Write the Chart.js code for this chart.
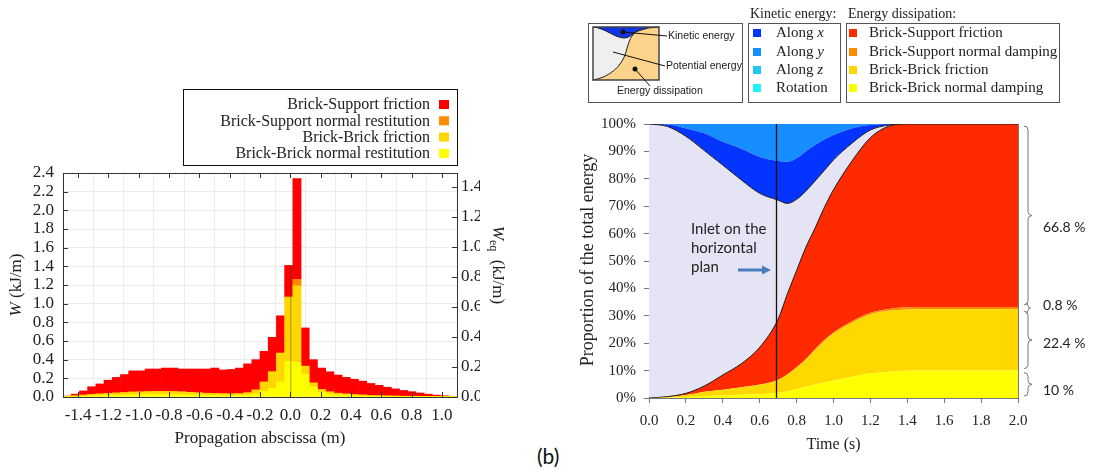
<!DOCTYPE html>
<html>
<head>
<meta charset="utf-8">
<script src="https://cdn.jsdelivr.net/npm/chart.js@4.4.0/dist/chart.umd.min.js"></script>
<style>
  html, body { margin: 0; padding: 0; background: #fff; }
  #wrap { position: relative; width: 1094px; height: 472px; overflow: hidden; }
  #left { position: absolute; left: 0; top: 0; }
  #right { position: absolute; left: 560px; top: 0; }
  #tag { position: absolute; left: 537px; top: 443px; font: 21px Lato, "Noto Sans", sans-serif; color: #111; }
</style>
</head>
<body>
<div id="wrap">
  <canvas id="left" width="520" height="472"></canvas>
  <canvas id="right" width="534" height="472"></canvas>
  <div id="tag">(b)</div>
</div>
<script>
// ---------- left panel : energy dissipated along the propagation abscissa ----------
const binStart = [-1.40,-1.35,-1.30,-1.25,-1.20,-1.15,-1.10,-1.05,-1.00,-0.95,-0.90,-0.85,
  -0.80,-0.75,-0.70,-0.65,-0.60,-0.55,-0.50,-0.45,-0.40,-0.35,-0.30,-0.25,-0.20,-0.15,-0.10,-0.05,
  0.00,0.05,0.10,0.15,0.20,0.25,0.30,0.35,0.40,0.45,0.50,0.55,0.60,0.65,0.70,0.75,0.80,0.85,0.90,0.95];

// W (kJ/m) per 5 cm bin, one array per dissipation mode (stacked bottom -> top)
const bbNormalRest = [0.002,0.005,0.008,0.012,0.015,0.018,0.02,0.022,0.025,0.026,0.027,0.028,
  0.027,0.026,0.025,0.022,0.02,0.018,0.017,0.015,0.015,0.016,0.02,0.03,0.06,0.09,0.16,0.38,
  0.37,0.24,0.11,0.05,0.03,0.02,0.015,0.012,0.01,0.008,0.007,0.006,0.005,0.004,0.003,0.002,0.002,0.001,0.001,0.0005];
const bbFriction = [0.002,0.007,0.012,0.016,0.018,0.02,0.023,0.026,0.028,0.029,0.031,0.032,
  0.033,0.032,0.03,0.028,0.025,0.022,0.021,0.02,0.018,0.02,0.025,0.045,0.10,0.18,0.31,0.69,
  0.82,0.09,0.04,0.03,0.025,0.02,0.017,0.014,0.011,0.009,0.007,0.006,0.005,0.004,0.003,0.003,0.002,0.002,0.001,0.0005];
const bsNormalRest = [0,0,0,0,0,0,0,0,0,0,0,0,0,0,0,0,0,0,0,0,0,0,0,0,0,0,0,0,
  0.07,0,0,0,0,0,0,0,0,0,0,0,0,0,0,0,0,0,0,0];
const bsFriction = [0.006,0.018,0.045,0.082,0.107,0.142,0.167,0.192,0.227,0.225,0.242,0.24,
  0.25,0.252,0.245,0.25,0.255,0.26,0.272,0.255,0.262,0.274,0.31,0.325,0.33,0.37,0.40,0.34,
  1.08,0.41,0.25,0.23,0.215,0.195,0.178,0.164,0.149,0.128,0.111,0.093,0.077,0.062,0.051,0.038,0.026,0.017,0.011,0.007];

const W_EQ_RATIO = 0.6222;   // right axis (Weq) / left axis (W)

const SERIF = '"Liberation Serif", "DejaVu Serif", serif';
const SANS = 'Lato, "Noto Sans", sans-serif';

function fmt1(v) { return Math.abs(v) < 1e-9 ? '0.0' : v.toFixed(1); }

const leftDecor = {
  id: 'leftDecor',
  afterDatasetsDraw(chart) {
    const { ctx, scales } = chart;
    // zero axis seen through the two central bars
    const x0 = scales.xt.getPixelForValue(0);
    const h = Math.min(bsFriction[27] + bbFriction[27] + bbNormalRest[27] + bsNormalRest[27],
                       bsFriction[28] + bbFriction[28] + bbNormalRest[28] + bsNormalRest[28]);
    ctx.save();
    ctx.strokeStyle = 'rgba(60,60,60,0.45)';
    ctx.lineWidth = 1;
    ctx.beginPath();
    ctx.moveTo(x0 + 0.5, scales.y.getPixelForValue(0));
    ctx.lineTo(x0 + 0.5, scales.y.getPixelForValue(h));
    ctx.stroke();
    ctx.restore();
  },
  afterDraw(chart) {
    const { ctx, chartArea: a, scales } = chart;
    ctx.save();
    ctx.strokeStyle = '#333';
    ctx.lineWidth = 1;
    ctx.strokeRect(a.left + 0.5, a.top + 0.5, a.right - a.left, a.bottom - a.top);
    // inward ticks on all sides
    ctx.beginPath();
    scales.xt.ticks.forEach(t => {
      const x = Math.round(scales.xt.getPixelForValue(t.value)) + 0.5;
      ctx.moveTo(x, a.bottom); ctx.lineTo(x, a.bottom - 5);
      ctx.moveTo(x, a.top); ctx.lineTo(x, a.top + 5);
    });
    scales.y.ticks.forEach(t => {
      const y = Math.round(scales.y.getPixelForValue(t.value)) + 0.5;
      ctx.moveTo(a.left, y); ctx.lineTo(a.left + 5, y);
    });
    scales.y2.ticks.forEach(t => {
      const y = Math.round(scales.y2.getPixelForValue(t.value)) + 0.5;
      ctx.moveTo(a.right, y); ctx.lineTo(a.right - 5, y);
    });
    ctx.stroke();

    // axis titles
    ctx.fillStyle = '#222';
    ctx.font = '17px ' + SERIF;
    ctx.textAlign = 'center';
    ctx.textBaseline = 'middle';
    ctx.fillText('Propagation abscissa (m)', (a.left + a.right) / 2, 439);

    ctx.save();
    ctx.translate(17, 285);
    ctx.rotate(-Math.PI / 2);
    ctx.textAlign = 'left';
    ctx.font = 'italic 17px ' + SERIF;
    const wW = ctx.measureText('W').width;
    ctx.font = '17px ' + SERIF;
    const rest = ' (kJ/m)';
    const total = wW + ctx.measureText(rest).width;
    ctx.font = 'italic 17px ' + SERIF;
    ctx.fillText('W', -total / 2, 0);
    ctx.font = '17px ' + SERIF;
    ctx.fillText(rest, -total / 2 + wW, 0);
    ctx.restore();

    // right axis title: W_eq (kJ/m), reading downwards
    ctx.save();
    ctx.translate(497, 265);
    ctx.rotate(Math.PI / 2);
    ctx.textAlign = 'left';
    ctx.font = 'italic 17px ' + SERIF;
    const wq = ctx.measureText('W').width;
    ctx.font = '12px ' + SERIF;
    const wsub = ctx.measureText('eq').width;
    ctx.font = '17px ' + SERIF;
    const wr = ctx.measureText('  (kJ/m)').width;
    let px = -(wq + wsub + wr) / 2;
    ctx.font = 'italic 17px ' + SERIF;
    ctx.fillText('W', px, 0); px += wq;
    ctx.font = '12px ' + SERIF;
    ctx.fillText('eq', px, 4); px += wsub;
    ctx.font = '17px ' + SERIF;
    ctx.fillText('  (kJ/m)', px, 0);
    ctx.restore();

    // legend box (top right, gnuplot style: text then swatch)
    const lx = 183, ly = 89, lw = 274, lh = 76;
    ctx.fillStyle = '#fff';
    ctx.fillRect(lx, ly, lw, lh);
    ctx.strokeStyle = '#111';
    ctx.strokeRect(lx + 0.5, ly + 0.5, lw, lh);
    ctx.font = '16px ' + SERIF;
    ctx.textAlign = 'right';
    const ds = chart.data.datasets.slice().reverse();
    ds.forEach((d, i) => {
      const y = 105 + i * 16.3;
      ctx.fillStyle = '#222';
      ctx.fillText(d.label, 430, y);
      ctx.fillStyle = d.backgroundColor;
      ctx.fillRect(439, y - 5, 10, 9);
    });
    ctx.restore();
  }
};

new Chart(document.getElementById('left'), {
  type: 'bar',
  data: {
    labels: binStart,
    datasets: [
      { label: 'Brick-Brick normal restitution', data: bbNormalRest, backgroundColor: '#ffff00' },
      { label: 'Brick-Brick friction', data: bbFriction, backgroundColor: '#ffd700' },
      { label: 'Brick-Support normal restitution', data: bsNormalRest, backgroundColor: '#ff8c00' },
      { label: 'Brick-Support friction', data: bsFriction, backgroundColor: '#ff0000' }
    ]
  },
  options: {
    responsive: false,
    devicePixelRatio: 1,
    animation: false,
    layout: { padding: { top: 173, left: 0, right: 40, bottom: 0 } },
    datasets: { bar: { barPercentage: 1, categoryPercentage: 1, borderWidth: 0 } },
    plugins: { legend: { display: false }, tooltip: { enabled: false } },
    scales: {
      x: { display: false, stacked: true, offset: true },
      xt: {
        type: 'linear', position: 'bottom', min: -1.4, max: 1.0,
        grid: { color: '#ececec', drawTicks: false },
        border: { display: false },
        ticks: { stepSize: 0.2, autoSkip: false, padding: 8, color: '#222', font: { family: SERIF, size: 17 }, callback: fmt1, maxRotation: 0 },
        afterFit: s => { s.height = 75; }
      },
      y: {
        stacked: true, min: 0, max: 2.4,
        grid: { color: '#ececec', drawTicks: false },
        border: { display: false },
        ticks: { stepSize: 0.2, autoSkip: false, padding: 9, color: '#222', font: { family: SERIF, size: 17 }, callback: fmt1 },
        afterFit: s => { s.width = 63; }
      },
      y2: {
        position: 'right', min: 0, max: 2.4 * W_EQ_RATIO,
        grid: { display: false, drawTicks: false },
        border: { display: false },
        ticks: { stepSize: 0.2, autoSkip: false, includeBounds: false, padding: 4, color: '#222', font: { family: SERIF, size: 17 }, callback: fmt1 },
        afterFit: s => { s.width = 23; }
      }
    }
  },
  plugins: [leftDecor]
});

// ---------- right panel : energy balance over time ----------
const time = [0,0.1,0.2,0.3,0.4,0.5,0.6,0.7,0.75,0.8,0.85,0.9,0.95,1.0,1.1,1.2,1.3,1.4,1.5,1.6,1.7,1.8,1.9,2.0];
// share of the total energy (%), stacked bottom -> top
const bbNormalDamp = [0,0.1,0.4,0.7,1.0,1.2,1.4,1.9,2.5,3.3,4.1,4.9,5.7,6.4,7.8,9.0,9.6,9.9,10,10,10,10,10,10];
const bbFrictionE = [0,0.2,0.7,1.6,2.0,2.7,3.4,4.7,6.0,7.7,9.9,12.6,15.1,17.1,19.7,21.5,22.2,22.4,22.4,22.4,22.4,22.4,22.4,22.4];
const bsNormalDamp = [0,0,0,0,0.05,0.05,0.1,0.1,0.15,0.2,0.25,0.3,0.35,0.4,0.5,0.6,0.7,0.8,0.8,0.8,0.8,0.8,0.8,0.8];
const bsFrictionE = [0,0.2,0.6,2.1,5.35,8.55,13.6,22.1,29.35,35.3,40.75,44.2,48.35,52.1,58.5,63.9,66.7,66.9,66.8,66.8,66.8,66.8,66.8,66.8];
const potential = [100,98.6,93.8,85.9,76.6,67.1,56.2,43.4,33,26,20.5,17.2,13.5,10.9,6.5,2.8,0.4,0,0,0,0,0,0,0];
const kinX = [0,0.7,2.9,6.3,8.5,11.4,13.3,14.3,15.2,15,14.5,13.1,11.3,9.1,5.4,1.8,0.4,0,0,0,0,0,0,0];
const kinY = [0,0.2,1.6,3.4,6.5,9,12,13.5,13.8,12.5,10,7.7,5.7,4,1.6,0.4,0,0,0,0,0,0,0,0];
const kinZ = [0,0,0,0,0,0,0,0,0,0,0,0,0,0,0,0,0,0,0,0,0,0,0,0];
const kinRot = [0,0,0,0,0,0,0,0,0,0,0,0,0,0,0,0,0,0,0,0,0,0,0,0];

const inletTime = 0.69;
const finalShares = ['66.8 %', '0.8 %', '22.4 %', '10 %'];
const braceRanges = [[33.2, 100], [32.4, 33.2], [10, 32.4], [0, 10]];
const shareLabelAt = [62.3, 33.6, 20, 2.9];

function pts(arr) { return arr.map((v, i) => ({ x: time[i], y: v })); }

function brace(ctx, x, y1, y2, w) {
  const ym = (y1 + y2) / 2;
  w = Math.min(w, (y2 - y1) / 4);
  ctx.beginPath();
  ctx.moveTo(x - w, y1);
  ctx.quadraticCurveTo(x, y1, x, y1 + w);
  ctx.lineTo(x, ym - w);
  ctx.quadraticCurveTo(x, ym, x + w, ym);
  ctx.quadraticCurveTo(x, ym, x, ym + w);
  ctx.lineTo(x, y2 - w);
  ctx.quadraticCurveTo(x, y2, x - w, y2);
  ctx.stroke();
}

function italicTail(ctx, head, tail, x, y, size) {
  ctx.font = size + 'px ' + SERIF;
  ctx.fillText(head, x, y);
  const w = ctx.measureText(head).width;
  ctx.font = 'italic ' + size + 'px ' + SERIF;
  ctx.fillText(tail, x + w, y);
}

const rightDecor = {
  id: 'rightDecor',
  afterDatasetsDraw(chart) {
    const { ctx, chartArea: a, scales } = chart;
    ctx.save();
    // inlet on the horizontal plan
    const xi = Math.round(scales.x.getPixelForValue(inletTime)) + 0.5;
    ctx.strokeStyle = '#111';
    ctx.lineWidth = 1.3;
    ctx.beginPath();
    ctx.moveTo(xi, a.top); ctx.lineTo(xi, a.bottom);
    ctx.stroke();
    ctx.fillStyle = '#222';
    ctx.font = '15px ' + SANS;
    ctx.textAlign = 'left';
    ctx.textBaseline = 'middle';
    ctx.fillText('Inlet on the', 131, 229);
    ctx.fillText('horizontal', 131, 248);
    ctx.fillText('plan', 131, 267);
    // arrow
    ctx.fillStyle = '#4a7ebb';
    ctx.beginPath();
    ctx.moveTo(178, 268.5); ctx.lineTo(202, 268.5); ctx.lineTo(202, 265.5);
    ctx.lineTo(211, 270); ctx.lineTo(202, 274.5); ctx.lineTo(202, 271.5);
    ctx.lineTo(178, 271.5); ctx.closePath();
    ctx.fill();
    // right frame line
    ctx.strokeStyle = '#777';
    ctx.lineWidth = 1;
    ctx.beginPath();
    ctx.moveTo(a.right + 0.5, a.top); ctx.lineTo(a.right + 0.5, a.bottom);
    ctx.stroke();
    ctx.restore();
  },
  afterDraw(chart) {
    const { ctx, chartArea: a, scales } = chart;
    const ds = chart.data.datasets;
    ctx.save();
    ctx.textBaseline = 'middle';

    // braces with the final shares
    ctx.strokeStyle = '#777';
    ctx.lineWidth = 1;
    braceRanges.forEach((r, i) => {
      let y1 = scales.y.getPixelForValue(r[1]);
      let y2 = scales.y.getPixelForValue(r[0]);
      if (y2 - y1 < 10) { const m = (y1 + y2) / 2; y1 = m - 5; y2 = m + 5; }
      else { y1 += 2; y2 -= 2; }
      brace(ctx, 468, y1, y2, 4);
      ctx.fillStyle = '#222';
      ctx.font = '14px ' + SANS;
      ctx.textAlign = 'left';
      ctx.fillText(finalShares[i], 483, scales.y.getPixelForValue(shareLabelAt[i]));
    });

    // axis titles
    ctx.fillStyle = '#222';
    ctx.textAlign = 'center';
    ctx.font = '16px ' + SERIF;
    ctx.fillText('Time (s)', (a.left + a.right) / 2, 445);
    ctx.save();
    ctx.translate(28, 260);
    ctx.rotate(-Math.PI / 2);
    ctx.font = '18px ' + SERIF;
    ctx.fillText('Proportion of the total energy', 0, 0);
    ctx.restore();

    // schematic
    ctx.strokeStyle = '#555';
    ctx.strokeRect(28.5, 23.5, 154, 79);
    const x0 = 33, y0 = 27, x1 = 99, y1 = 80;
    ctx.fillStyle = '#efefef';
    ctx.fillRect(x0, y0, x1 - x0, y1 - y0);
    ctx.fillStyle = '#fbd38a';
    ctx.beginPath();
    ctx.moveTo(x0, y1);
    ctx.bezierCurveTo(50, 77, 62, 66, 66, 52);
    ctx.bezierCurveTo(69, 41, 71, 34, 78, 31);
    ctx.quadraticCurveTo(88, 27, x1, y0);
    ctx.lineTo(x1, y1);
    ctx.closePath();
    ctx.fill();
    ctx.fillStyle = '#1034e8';
    ctx.beginPath();
    ctx.moveTo(x0, y0);
    ctx.bezierCurveTo(45, 28, 55, 38, 64, 38);
    ctx.bezierCurveTo(71, 38, 73, 32, 78, 31);
    ctx.quadraticCurveTo(88, 27, x1, y0);
    ctx.closePath();
    ctx.fill();
    ctx.strokeStyle = '#222';
    ctx.beginPath();
    ctx.moveTo(x0, y0);
    ctx.bezierCurveTo(45, 28, 55, 38, 64, 38);
    ctx.bezierCurveTo(71, 38, 73, 32, 78, 31);
    ctx.quadraticCurveTo(88, 27, x1, y0);
    ctx.moveTo(x0, y1);
    ctx.bezierCurveTo(50, 77, 62, 66, 66, 52);
    ctx.bezierCurveTo(69, 41, 71, 34, 78, 31);
    ctx.stroke();
    ctx.strokeStyle = '#444';
    ctx.lineWidth = 1.5;
    ctx.strokeRect(x0, y0, x1 - x0, y1 - y0);
    ctx.lineWidth = 1;
    ctx.strokeStyle = '#111';
    ctx.fillStyle = '#111';
    ctx.beginPath(); ctx.arc(63, 32, 2.5, 0, Math.PI * 2); ctx.fill();
    ctx.beginPath(); ctx.arc(75, 69, 2.5, 0, Math.PI * 2); ctx.fill();
    ctx.beginPath();
    ctx.moveTo(63, 32); ctx.lineTo(107, 36);
    ctx.moveTo(53, 52); ctx.lineTo(105, 66);
    ctx.moveTo(75, 69); ctx.lineTo(90, 86);
    ctx.stroke();
    ctx.font = '10.5px "Liberation Sans", Arial, sans-serif';
    ctx.textAlign = 'left';
    ctx.fillStyle = '#222';
    ctx.fillText('Kinetic energy', 108, 36);
    ctx.fillText('Potential energy', 106, 66);
    ctx.fillText('Energy dissipation', 57, 91);

    // kinetic energy legend
    ctx.font = '14px ' + SERIF;
    ctx.fillText('Kinetic energy:', 190, 14);
    ctx.fillText('Energy dissipation:', 288, 14);
    ctx.strokeStyle = '#555';
    ctx.strokeRect(188.5, 23.5, 92, 79);
    ctx.strokeRect(286.5, 23.5, 213, 79);
    const rowsY = [33, 52, 70, 88];
    const kin = [ds[5], ds[6], ds[7], ds[8]];
    const kinNames = [['Along ', 'x'], ['Along ', 'y'], ['Along ', 'z'], ['Rotation', '']];
    kin.forEach((d, i) => {
      ctx.fillStyle = d.backgroundColor;
      ctx.fillRect(193, rowsY[i] - 4, 8, 8);
      ctx.fillStyle = '#222';
      italicTail(ctx, kinNames[i][0], kinNames[i][1], 216, rowsY[i], 15);
    });
    const dis = [ds[3], ds[2], ds[1], ds[0]];
    dis.forEach((d, i) => {
      ctx.fillStyle = d.backgroundColor;
      ctx.fillRect(289, rowsY[i] - 4, 8, 8);
      ctx.fillStyle = '#222';
      ctx.font = '15px ' + SERIF;
      ctx.fillText(d.label, 309, rowsY[i]);
    });
    ctx.restore();
  }
};

function layer(label, arr, color, idx, border) {
  return {
    label: label,
    data: pts(arr),
    backgroundColor: color,
    borderColor: border ? '#1a1a1a' : color,
    borderWidth: border ? 1 : 0,
    fill: idx === 0 ? 'origin' : '-1',
    pointRadius: 0,
    cubicInterpolationMode: 'monotone'
  };
}

new Chart(document.getElementById('right'), {
  type: 'line',
  data: {
    datasets: [
      layer('Brick-Brick normal damping', bbNormalDamp, '#ffff00', 0, false),
      layer('Brick-Brick friction', bbFrictionE, '#ffd800', 1, false),
      layer('Brick-Support normal damping', bsNormalDamp, '#ff8c00', 2, false),
      layer('Brick-Support friction', bsFrictionE, '#ff2a00', 3, true),
      layer('Potential energy', potential, '#e4e4f4', 4, true),
      layer('Along x', kinX, '#0434ff', 5, false),
      layer('Along y', kinY, '#168eff', 6, false),
      layer('Along z', kinZ, '#22c8f0', 7, false),
      layer('Rotation', kinRot, '#22f0ff', 8, false)
    ]
  },
  options: {
    responsive: false,
    devicePixelRatio: 1,
    animation: false,
    layout: { padding: { top: 124, left: 0, right: 76, bottom: 0 } },
    plugins: { legend: { display: false }, tooltip: { enabled: false } },
    scales: {
      x: {
        type: 'linear', min: 0, max: 2,
        grid: { drawOnChartArea: false, tickLength: 5, color: '#777' },
        border: { color: '#777' },
        ticks: { stepSize: 0.2, autoSkip: false, padding: 9, color: '#222', font: { family: SERIF, size: 15 }, callback: fmt1, maxRotation: 0 },
        afterFit: s => { s.height = 74; }
      },
      y: {
        stacked: true, min: 0, max: 100,
        grid: { drawOnChartArea: false, tickLength: 5, color: '#777' },
        border: { color: '#777' },
        ticks: { stepSize: 10, autoSkip: false, padding: 8, color: '#222', font: { family: SERIF, size: 15 }, callback: v => v + '%' },
        afterFit: s => { s.width = 89; }
      }
    }
  },
  plugins: [rightDecor]
});
</script>
</body>
</html>
